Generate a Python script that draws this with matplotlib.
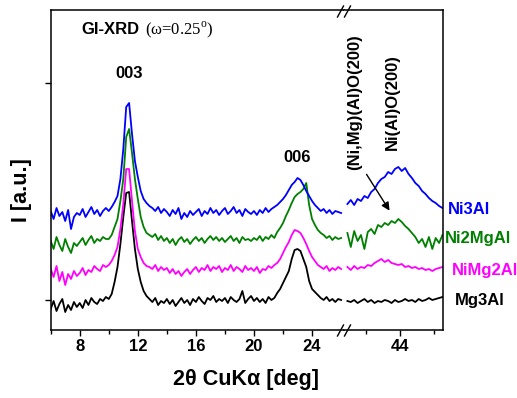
import numpy as np
import matplotlib
matplotlib.use("Agg")
import matplotlib.pyplot as plt
from matplotlib.lines import Line2D

plt.rcParams['font.family'] = ['Liberation Sans', 'DejaVu Sans']
plt.rcParams['font.weight'] = 'bold'

# sampling grids for the two pieces of the broken axis
x_low = np.linspace(6.0, 26.0, 101)
x_high = np.linspace(40.9, 46.5, 29)

# intensities (a.u., already stacked)
mg3al_low = [20, 28, 18, 25, 30, 17, 24, 19, 27, 22,
             26, 21, 29, 24, 31, 27, 25, 30, 28, 32,
             30, 35, 47, 62, 85, 112, 136, 137, 108, 80,
             60, 47, 38, 33, 30, 27, 31, 24, 28, 26,
             30, 25, 29, 23, 27, 31, 26, 29, 24, 30,
             27, 32, 28, 25, 31, 29, 33, 27, 30, 28,
             31, 26, 32, 29, 27, 30, 38, 26, 30, 33,
             28, 31, 27, 30, 26, 32, 29, 31, 36, 40,
             46, 52, 58, 70, 79, 80, 78, 70, 62, 48,
             40, 37, 34, 31, 29, 32, 28, 30, 27, 30,
             29]
nimg2al_low = [60, 52, 63, 48, 57, 44, 55, 50, 58, 53,
               56, 61, 54, 59, 57, 63, 60, 58, 64, 62,
               64, 68, 74, 82, 100, 125, 160, 160, 128, 98,
               80, 72, 66, 63, 62, 60, 64, 58, 62, 59,
               61, 56, 60, 55, 58, 53, 57, 60, 55, 59,
               62, 57, 61, 59, 64, 58, 62, 60, 63, 57,
               61, 59, 64, 58, 62, 60, 57, 63, 59, 61,
               58, 62, 56, 60, 59, 63, 61, 64, 66, 70,
               76, 82, 87, 94, 99, 98, 96, 91, 85, 78,
               72, 68, 64, 62, 60, 63, 58, 61, 59, 62,
               60]
ni2mgal_low = [88, 80, 92, 84, 78, 90, 82, 76, 86, 83,
               87, 91, 84, 89, 93, 86, 90, 88, 92, 90,
               90, 94, 102, 110, 128, 150, 192, 200, 176, 150,
               130, 112, 102, 96, 94, 92, 95, 89, 93, 88,
               91, 86, 90, 84, 89, 92, 87, 90, 85, 89,
               92, 88, 91, 86, 90, 93, 89, 92, 88, 91,
               87, 90, 93, 88, 91, 86, 92, 89, 90, 88,
               91, 89, 93, 88, 92, 90, 94, 91, 97, 101,
               106, 113, 119, 126, 132, 135, 137, 140, 146, 124,
               110, 104, 99, 96, 94, 91, 93, 89, 92, 90,
               91]
ni3al_low = [118, 110, 121, 113, 117, 108, 119, 100, 112, 116,
             114, 120, 112, 117, 122, 115, 119, 113, 118, 121,
             118, 122, 127, 133, 150, 180, 222, 226, 195, 168,
             152, 138, 130, 126, 123, 121, 118, 122, 116, 120,
             117, 113, 119, 115, 121, 110, 116, 112, 118, 114,
             117, 120, 113, 118, 115, 121, 116, 119, 114, 118,
             121, 115, 118, 122, 116, 119, 113, 120, 117, 115,
             118, 114, 119, 116, 121, 117, 120, 122, 124, 127,
             130, 134, 139, 144, 147, 151, 149, 144, 138, 133,
             128, 124, 121, 118, 120, 116, 119, 115, 118, 117,
             116]

mg3al_high = [28, 27, 29, 26, 28, 30, 27, 29, 26, 28, 27, 29, 28, 26, 29,
              27, 28, 30, 28, 29, 27, 30, 28, 29, 31, 29, 30, 31, 32]
nimg2al_high = [62, 59, 63, 60, 62, 61, 64, 63, 66, 68, 70, 67, 69, 66, 65,
                64, 65, 62, 63, 61, 62, 60, 61, 59, 60, 58, 60, 61, 62]
ni2mgal_high = [96, 82, 98, 88, 94, 80, 97, 100, 95, 104, 102, 106, 104, 108, 106,
                110, 107, 103, 100, 96, 92, 86, 90, 82, 92, 80, 91, 86, 94]
ni3al_high = [125, 129, 124, 130, 128, 133, 131, 137, 140, 146, 150, 152, 157, 155, 160,
              162, 158, 161, 155, 151, 146, 143, 138, 135, 131, 128, 126, 123, 121]

names = ['Mg3Al', 'NiMg2Al', 'Ni2MgAl', 'Ni3Al']
colors = ['black', '#ff00ff', '#008000', '#0000ff']
lows = [mg3al_low, nimg2al_low, ni2mgal_low, ni3al_low]
highs = [mg3al_high, nimg2al_high, ni2mgal_high, ni3al_high]

W, H = 517, 398
fig = plt.figure(figsize=(W / 100, H / 100), dpi=100)
ax1 = fig.add_axes([50.7 / W, 1 - 329.5 / H, (344 - 50.7) / W, 319.5 / H])
ax2 = fig.add_axes([344 / W, 1 - 329.5 / H, (443 - 344) / W, 319.5 / H])

for c, lo, hi in zip(colors, lows, highs):
    ax1.plot(x_low, lo, color=c, lw=1.3)
    ax2.plot(x_high, hi, color=c, lw=1.3)

ax1.set_xlim(6, 26.2)
ax2.set_xlim(40.7, 46.53)
for ax in (ax1, ax2):
    ax.set_ylim(-0.5, 319)
    for s in ax.spines.values():
        s.set_linewidth(1.1)
    ax.tick_params(axis='x', direction='out', length=4, width=1.0, labelsize=12, pad=3)
    ax.tick_params(axis='x', which='minor', direction='out', length=3, width=1.0)
ax1.spines['right'].set_visible(False)
ax2.spines['left'].set_visible(False)

ax1.set_xticks([8, 12, 16, 20, 24])
ax1.set_xticks([6, 10, 14, 18, 22], minor=True)
ax2.set_xticks([44])
ax2.set_xticks([42, 46], minor=True)
ax1.set_yticks([29, 246])
ax1.set_yticklabels([])
ax1.tick_params(axis='y', direction='out', length=4, width=1.0)
ax2.set_yticks([])

# axis labels
fig.text(246 / W, 1 - 379 / H, '2θ CuKα [deg]', ha='center', va='center', fontsize=15.5)
fig.text(22 / W, 1 - 190 / H, 'I [a.u.]', ha='center', va='center', fontsize=15.5, rotation=90)

# break marks
for bx in (337.5, 344.5):
    for y0 in (17, 336):
        fig.add_artist(Line2D([bx / W, (bx + 6) / W], [1 - y0 / H, 1 - (y0 - 11) / H],
                              color='black', lw=1.0))

# peak labels
ax1.text(11.39, 256, '003', ha='center', va='center', fontsize=12)
ax1.text(22.96, 171, '006', ha='center', va='center', fontsize=12)
ax1.text(8.1, 299, 'GI-XRD', ha='left', va='center', fontsize=12)
ax1.text(12.5, 299, r'($\mathregular{\omega}$=0.25$^\mathregular{o}$)', ha='left', va='center',
         fontsize=12, fontweight='normal', family='Liberation Serif')

fig.text(355 / W, 1 - 170 / H, '(Ni,Mg)(Al)O(200)', rotation=90, ha='center', va='bottom', fontsize=12)
fig.text(392 / W, 1 - 150 / H, 'Ni(Al)O(200)', rotation=90, ha='center', va='bottom', fontsize=12)
ax2.annotate('', xy=(43.47, 116), xytext=(41.94, 157),
             arrowprops=dict(arrowstyle='-|>', color='black', lw=1.0, mutation_scale=12))

# sample names at the right
name_pos = {'Ni3Al': (448, 210), 'Ni2MgAl': (445, 239), 'NiMg2Al': (452, 270), 'Mg3Al': (455, 301)}
for n, c in zip(names, colors):
    px, py = name_pos[n]
    fig.text(px / W, 1 - py / H, n, color=c, ha='left', va='center', fontsize=12)

fig.savefig('out.png', dpi=100)
